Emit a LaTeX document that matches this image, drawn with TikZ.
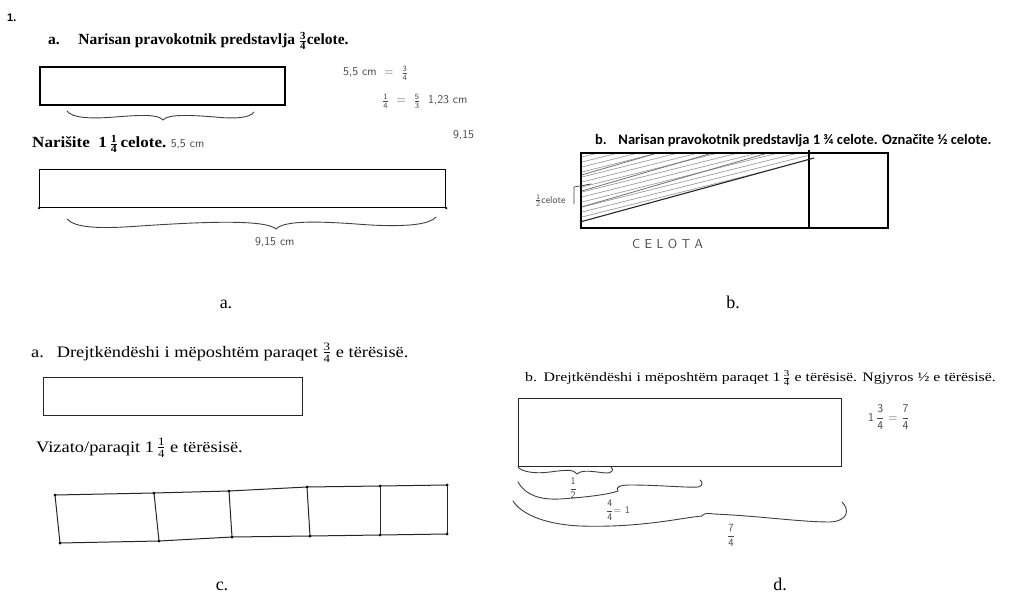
\documentclass[tikz,border=0pt]{standalone}
\usepackage{amsmath}
\usepackage{fontspec}
\setmainfont{Liberation Serif}
\newfontfamily\bsans{Carlito}
\newfontfamily\hdr{Liberation Sans}
\newfontfamily\wideserif[FakeStretch=1.15]{Liberation Serif}
\newfontfamily\wideserifd[FakeStretch=1.22]{Liberation Serif}
\newfontfamily\widebold[FakeStretch=1.1]{Liberation Serif Bold}
\newcommand{\ffr}[2]{\ensuremath{\frac{\text{#1}}{\text{#2}}}}
\newcommand{\dfr}[2]{\ensuremath{\dfrac{\text{#1}}{\text{#2}}}}
\tikzset{
  printbox/.style={draw=black, line width=1.6pt},
  thinbox/.style={draw=black!85, line width=1pt},
  hand/.style={draw=black!75, line width=0.9pt, line cap=round},
  handtxt/.style={text=black!72, font=\sffamily\fontsize{12}{13}\selectfont, inner sep=0pt},
  txt/.style={anchor=base west, inner sep=0pt},
  captxt/.style={anchor=base, inner sep=0pt, font=\fontsize{18}{20}\selectfont},
  dot/.style={circle, fill=black, inner sep=0pt, minimum size=3pt}
}
\begin{document}
\begin{tikzpicture}[x=1pt,y=-1pt]
\useasboundingbox (0,0) rectangle (1023,599);
\fill[white] (0,0) rectangle (1023,599);

% ---------- panel a ----------
\node[txt, font=\hdr\bfseries\fontsize{11}{12}\selectfont] (num) at (7,22) {1.};
\node[txt, font=\bfseries\fontsize{15.5}{17}\selectfont] (ta) at (48,45) {a.\hspace{1.2em}Narisan pravokotnik predstavlja \ffr{3}{4}celote.};
\node[printbox, minimum width=245pt, minimum height=38pt, inner sep=0pt, anchor=north west] (ra1) at (39,66) {};
\draw[hand] (67,111) .. controls (72,118) and (90,119) .. (115,117) .. controls (140,115) and (158,114) .. (163,120) .. controls (168,114) and (190,115) .. (215,117) .. controls (235,119) and (250,118) .. (254,112);
\node[txt, font=\widebold\fontsize{15.5}{17}\selectfont] (tb) at (32,148) {Narišite \ 1\,\ffr{1}{4}\,celote.};
\node[handtxt, anchor=base west] (h55) at ([xshift=4pt]tb.base east) {5,5 cm};

\node[handtxt, anchor=base west] (h1) at (343,76) {5,5 cm \ = \ \ffr{3}{4}};
\node[handtxt, anchor=base west] (h2) at (382,104) {\ffr{1}{4} \ = \ \ffr{5}{3} \ 1,23 cm};
\node[handtxt, anchor=base west] (h3) at (453,139) {9,15};

\node[printbox, line width=1.2pt, minimum width=406pt, minimum height=38pt, inner sep=0pt, anchor=north west] (ra2) at (39,169) {};
\node[dot, minimum size=2.5pt] (ra2l) at (ra2.south west) {};
\node[dot, minimum size=2.5pt] (ra2r) at (ra2.south east) {};
\draw[hand] (67,219) .. controls (75,228) and (100,229) .. (140,226) .. controls (200,222) and (265,219) .. (276,229) .. controls (285,219) and (330,222) .. (370,225) .. controls (410,227) and (430,224) .. (436,217);
\node[handtxt, anchor=base west] (h915) at (255,245) {9,15 cm};

\node[captxt] (capa) at (226,308) {a.};

% ---------- panel b ----------
\node[txt, font=\bsans\bfseries\fontsize{14.5}{16}\selectfont] (tbb) at (595,145) {b.\hspace{0.8em}Narisan pravokotnik predstavlja 1 ¾ celote. Označite ½ celote.};
\begin{scope}
\clip (580,153) -- (809,153) -- (809,159) -- (580,222) -- cycle;
\foreach \k in {4,9,...,72} {
  \draw[black!40, line width=0.7pt] (578,222-\k) -- ++(240,-60);
}
\foreach \k in {14,30,46} {
  \draw[black!55, line width=0.8pt] (578,222-\k) -- ++(200,-58);
}
\end{scope}
\node[printbox, minimum width=307pt, minimum height=75pt, inner sep=0pt, anchor=north west] (rb) at (580,152) {};
\coordinate (vtop) at (809,150);
\coordinate (vbot) at (809,227);
\draw[black, line width=1.1pt] (vtop) -- (vbot);
\coordinate (dgA) at (580,222);
\coordinate (dgB) at (814,158);
\draw[black!85, line width=1.1pt] (dgA) -- (dgB);
\node[handtxt, font=\sffamily\fontsize{10}{11}\selectfont, anchor=base west] (half) at (535,203) {\ffr{1}{2}celote};
\coordinate (lk1) at (574,204);
\coordinate (lk2) at (574,187);
\coordinate (lk3) at (591,184);
\draw[hand, line width=0.7pt] (lk1) -- (lk2) -- (lk3);
\node[handtxt, font=\sffamily\fontsize{13}{14}\selectfont, anchor=base west] (celota) at (632,248) {C\,\,E\,\,L\,\,O\,\,T\,\,A};

\node[captxt] (capb) at (733,308) {b.};

% ---------- panel c ----------
\node[txt, font=\wideserif\fontsize{16}{18}\selectfont] (tc) at (31,357) {a.\hspace{0.8em}Drejtkëndëshi i mëposhtëm paraqet \ffr{3}{4} e tërësisë.};
\node[thinbox, line width=1.2pt, minimum width=259pt, minimum height=38pt, inner sep=0pt, anchor=north west] (rc1) at (43,377) {};
\node[txt, font=\wideserif\fontsize{16}{18}\selectfont] (tv) at (36,452) {Vizato/paraqit 1\,\ffr{1}{4} e tërësisë.};

\coordinate (t0) at (55,495);
\coordinate (t1) at (154,493);
\coordinate (t2) at (229,491);
\coordinate (t3) at (307,487);
\coordinate (t4) at (380,486);
\coordinate (t5) at (447,485);
\coordinate (b0) at (60,543);
\coordinate (b1) at (159,541);
\coordinate (b2) at (232,537);
\coordinate (b3) at (310,536);
\coordinate (b4) at (380,535);
\coordinate (b5) at (447,534);
\draw[black!85, line width=1pt] (t0) -- (t1) -- (t2) -- (t3) -- (t4) -- (t5);
\draw[black!85, line width=1pt] (b0) -- (b1) -- (b2) -- (b3) -- (b4) -- (b5);
\foreach \i in {0,...,5} {
  \draw[black!85, line width=1pt] (t\i) -- (b\i);
  \fill (t\i) circle (1.5pt);
  \fill (b\i) circle (1.5pt);
}

\node[captxt] (capc) at (222,590) {c.};

% ---------- panel d ----------
\node[txt, font=\wideserifd\fontsize{13}{15}\selectfont] (td) at (525,381) {b.\hspace{0.5em}Drejtkëndëshi i mëposhtëm paraqet 1\,\ffr{3}{4} e tërësisë. Ngjyros ½ e tërësisë.};
\node[thinbox, minimum width=323pt, minimum height=68pt, inner sep=0pt, anchor=north west] (rd) at (518,398) {};
\node[handtxt, font=\sffamily\fontsize{12}{13}\selectfont, anchor=west] (eq) at (868,417) {1\,\dfr{3}{4} = \dfr{7}{4}};

\draw[hand] (518,467) .. controls (522,472) and (535,474) .. (550,472) .. controls (565,470) and (574,469) .. (577,474) .. controls (582,469) and (595,472) .. (606,473) .. controls (613,473) and (614,469) .. (611,467);
\node[handtxt, font=\sffamily\fontsize{10}{11}\selectfont] (l1) at (573,488) {\dfr{1}{2}};
\draw[hand] (518,482) .. controls (525,495) and (540,500) .. (560,499) .. controls (590,497) and (610,494) .. (618,491) .. controls (615,487) and (620,485) .. (630,485) .. controls (660,485) and (690,488) .. (698,487) .. controls (703,486) and (703,482) .. (700,480);
\node[handtxt, font=\sffamily\fontsize{10}{11}\selectfont] (l2) at (618,510) {\dfr{4}{4}= 1};
\draw[hand] (513,501) .. controls (520,512) and (540,524) .. (580,526) .. controls (640,528) and (680,518) .. (702,516) .. controls (704,513) and (708,513) .. (714,514) .. controls (760,516) and (800,522) .. (830,522) .. controls (848,521) and (850,510) .. (842,502);
\node[handtxt, font=\sffamily\fontsize{11}{12}\selectfont] (l3) at (731,535) {\dfr{7}{4}};

\node[captxt] (capd) at (780,590) {d.};
\end{tikzpicture}
\end{document}
